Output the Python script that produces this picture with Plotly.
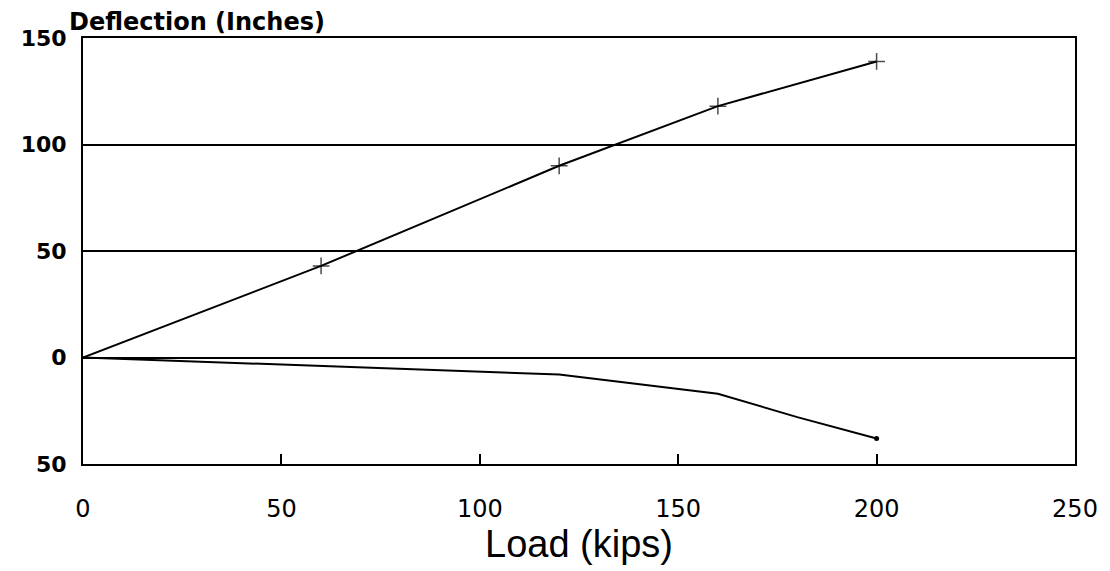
import plotly.graph_objects as go

# Data
load_up = [0, 60, 120, 160, 200]
defl_up = [0, 43, 90, 118, 139]

load_down = [0, 60, 120, 160, 180, 200]
defl_down = [0, -4, -8, -17, -28, -38]

x_ticks = [0, 50, 100, 150, 200, 250]
y_ticks = [-50, 0, 50, 100, 150]
y_tick_text = ["50", "0", "50", "100", "150"]

fig = go.Figure()
fig.add_trace(go.Scatter(
    x=load_up, y=defl_up, mode="lines+markers",
    line=dict(color="black", width=2),
    marker=dict(symbol=["circle"] + ["cross-thin"] * (len(load_up) - 1),
                size=[1] + [12] * (len(load_up) - 1), color="black",
                line=dict(color="black", width=1.5)),
    showlegend=False, hoverinfo="skip"))
fig.add_trace(go.Scatter(
    x=load_down, y=defl_down, mode="lines",
    line=dict(color="black", width=2),
    showlegend=False, hoverinfo="skip"))
fig.add_trace(go.Scatter(
    x=load_down[-1:], y=defl_down[-1:], mode="markers",
    marker=dict(symbol="circle", size=5, color="black"),
    showlegend=False, hoverinfo="skip"))

fig.update_layout(
    width=1110, height=571,
    margin=dict(l=83, r=32, t=38, b=107),
    paper_bgcolor="white", plot_bgcolor="white",
    font=dict(family="DejaVu Sans, Liberation Sans, sans-serif", color="black"),
    xaxis=dict(
        range=[0, 250], tickvals=x_ticks, ticktext=[str(v) for v in x_ticks],
        showgrid=False, zeroline=False,
        showline=True, linecolor="black", linewidth=2, mirror=True,
        ticks="inside", ticklen=10, tickwidth=1.5, tickcolor="black",
        tickfont=dict(size=24), ticklabelstandoff=22,
        title=dict(text="Load (kips)",
                   font=dict(size=38, family="Liberation Sans, Arial, sans-serif"),
                   standoff=4),
    ),
    yaxis=dict(
        range=[-50, 150], tickvals=y_ticks, ticktext=y_tick_text,
        showgrid=True, gridcolor="black", gridwidth=2,
        zeroline=False,
        showline=True, linecolor="black", linewidth=2, mirror=True,
        ticks="", tickfont=dict(size=22, family="DejaVu Sans", weight="bold"),
        ticklabelstandoff=10,
    ),
    annotations=[dict(
        text="<b>Deflection (Inches)</b>", xref="paper", yref="paper",
        x=-0.016, y=1.0, xanchor="left", yanchor="bottom", yshift=0,
        showarrow=False, font=dict(size=24, color="black"))],
)

fig.write_html("out.html")
